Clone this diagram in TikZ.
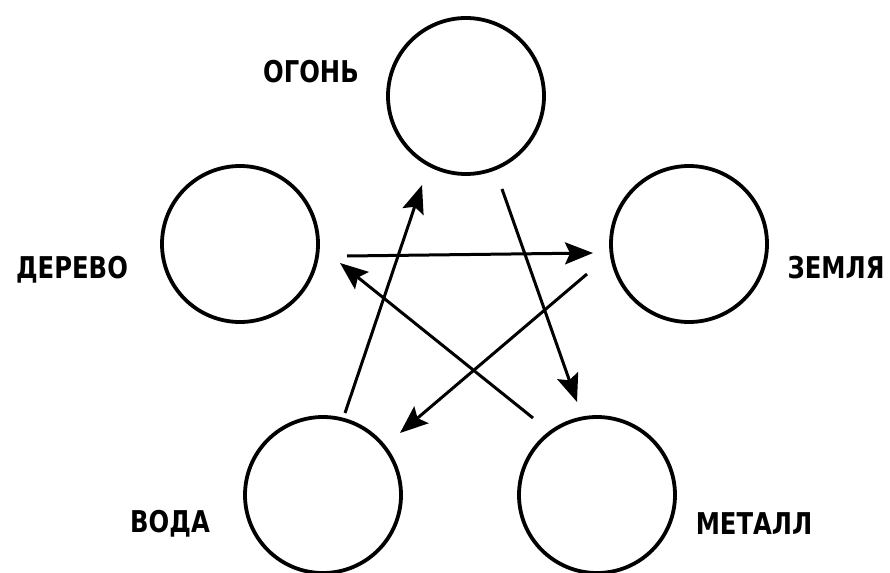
\documentclass[tikz,border=0pt]{standalone}
\usepackage{fontspec}
\setmainfont{DejaVu Sans Condensed}
\usetikzlibrary{arrows.meta,calc}
\newcommand\elabtext[1]{\scalebox{0.9}[1]{#1}}
\tikzset{
  elem/.style={circle,draw,line width=3.8pt,minimum size=156pt,inner sep=0pt},
  lbl/.style={font=\bfseries\fontsize{30}{34}\selectfont,inner sep=0pt},
  conn/.style={line width=3pt,-{Stealth[length=28pt,width=22pt,inset=5pt]}}
}
\begin{document}
\begin{tikzpicture}[x=1pt,y=-1pt]
\useasboundingbox (0,0) rectangle (890,572);
\node[elem] (O) at (466,96) {};
\node[elem] (D) at (240,244) {};
\node[elem] (Z) at (689,244) {};
\node[elem] (V) at (323,495) {};
\node[elem] (M) at (597,495) {};
\node[lbl] (lO) at (311,72) {\elabtext{ОГОНЬ}};
\node[lbl] (lD) at (72,270) {\elabtext{ДЕРЕВО}};
\node[lbl] (lZ) at (836,268) {\elabtext{ЗЕМЛЯ}};
\node[lbl] (lV) at (170,524) {\elabtext{ВОДА}};
\node[lbl] (lM) at (754,524) {\elabtext{МЕТАЛЛ}};
\draw[conn] ($(D)+(107,12)$) -- ($(Z)+(-96,9)$);
\draw[conn] ($(Z)+(-102,30)$) -- ($(V)+(77,-62)$);
\draw[conn] ($(V)+(22,-82)$) -- ($(O)+(-44,89)$);
\draw[conn] ($(O)+(36,93)$) -- ($(M)+(-20,-93)$);
\draw[conn] ($(M)+(-64,-77)$) -- ($(D)+(100,19)$);
\end{tikzpicture}
\end{document}
